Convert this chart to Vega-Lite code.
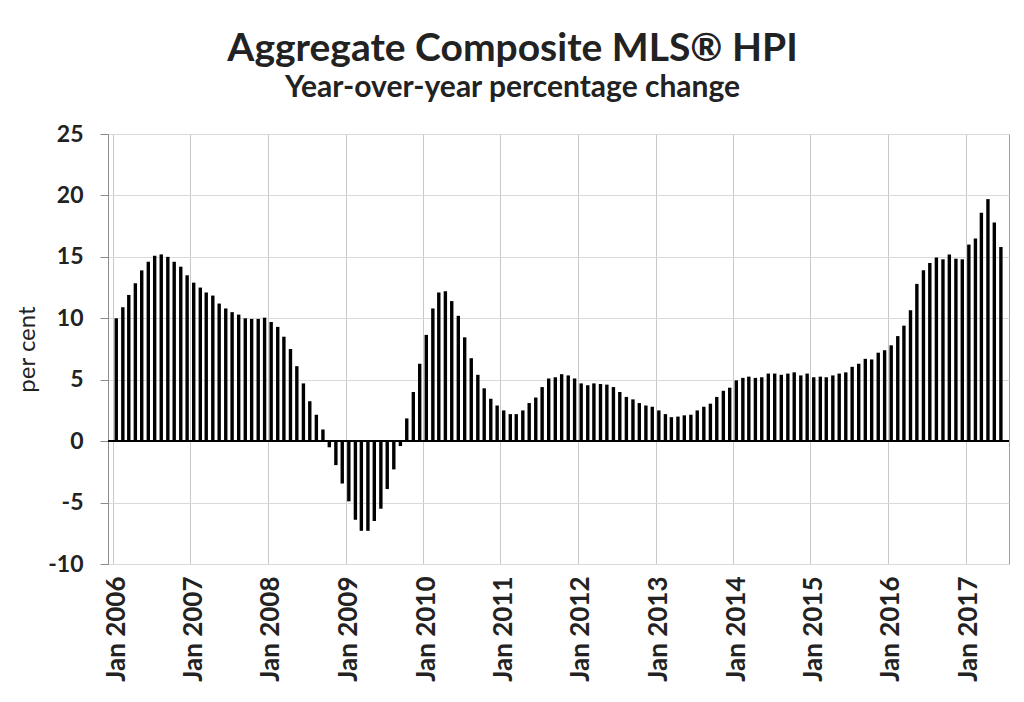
{
  "$schema": "https://vega.github.io/schema/vega-lite/v6.json",
  "autosize": {"type": "none"},
  "padding": {"left": 108, "top": 134, "right": 15, "bottom": 138},
  "width": 901,
  "height": 430,
  "background": "white",
  "title": {
    "text": "Aggregate Composite MLS® HPI",
    "subtitle": "Year-over-year percentage change",
    "font": "Lato",
    "fontSize": 39,
    "fontWeight": "bold",
    "color": "#222222",
    "subtitleFont": "Lato",
    "subtitleFontSize": 30,
    "subtitleFontWeight": "bold",
    "subtitleColor": "#222222",
    "subtitlePadding": 4,
    "anchor": "middle",
    "dx": -46,
    "offset": 20
  },
  "config": {
    "view": {"stroke": "#a0a0a0", "strokeWidth": 1},
    "axis": {
      "labelFont": "Lato",
      "titleFont": "Lato",
      "labelColor": "#222222",
      "titleColor": "#222222"
    }
  },
  "data": {
    "values": [
      {"month": "2006-01-01", "pct": 10.0}, {"month": "2006-02-01", "pct": 10.9}, {"month": "2006-03-01", "pct": 11.9}, {"month": "2006-04-01", "pct": 12.85},
      {"month": "2006-05-01", "pct": 13.9}, {"month": "2006-06-01", "pct": 14.6}, {"month": "2006-07-01", "pct": 15.1}, {"month": "2006-08-01", "pct": 15.2},
      {"month": "2006-09-01", "pct": 15.0}, {"month": "2006-10-01", "pct": 14.6}, {"month": "2006-11-01", "pct": 14.2}, {"month": "2006-12-01", "pct": 13.5},
      {"month": "2007-01-01", "pct": 12.9}, {"month": "2007-02-01", "pct": 12.5}, {"month": "2007-03-01", "pct": 12.1}, {"month": "2007-04-01", "pct": 11.85},
      {"month": "2007-05-01", "pct": 11.2}, {"month": "2007-06-01", "pct": 10.8}, {"month": "2007-07-01", "pct": 10.5}, {"month": "2007-08-01", "pct": 10.3},
      {"month": "2007-09-01", "pct": 10.0}, {"month": "2007-10-01", "pct": 9.95}, {"month": "2007-11-01", "pct": 9.95}, {"month": "2007-12-01", "pct": 10.05},
      {"month": "2008-01-01", "pct": 9.7}, {"month": "2008-02-01", "pct": 9.3}, {"month": "2008-03-01", "pct": 8.5}, {"month": "2008-04-01", "pct": 7.5},
      {"month": "2008-05-01", "pct": 6.1}, {"month": "2008-06-01", "pct": 4.7}, {"month": "2008-07-01", "pct": 3.25}, {"month": "2008-08-01", "pct": 2.15},
      {"month": "2008-09-01", "pct": 0.95}, {"month": "2008-10-01", "pct": -0.5}, {"month": "2008-11-01", "pct": -1.95}, {"month": "2008-12-01", "pct": -3.45},
      {"month": "2009-01-01", "pct": -4.9}, {"month": "2009-02-01", "pct": -6.4}, {"month": "2009-03-01", "pct": -7.3}, {"month": "2009-04-01", "pct": -7.3},
      {"month": "2009-05-01", "pct": -6.5}, {"month": "2009-06-01", "pct": -5.5}, {"month": "2009-07-01", "pct": -3.9}, {"month": "2009-08-01", "pct": -2.3},
      {"month": "2009-09-01", "pct": -0.4}, {"month": "2009-10-01", "pct": 1.85}, {"month": "2009-11-01", "pct": 4.0}, {"month": "2009-12-01", "pct": 6.3},
      {"month": "2010-01-01", "pct": 8.65}, {"month": "2010-02-01", "pct": 10.8}, {"month": "2010-03-01", "pct": 12.1}, {"month": "2010-04-01", "pct": 12.2},
      {"month": "2010-05-01", "pct": 11.4}, {"month": "2010-06-01", "pct": 10.2}, {"month": "2010-07-01", "pct": 8.45}, {"month": "2010-08-01", "pct": 6.75},
      {"month": "2010-09-01", "pct": 5.4}, {"month": "2010-10-01", "pct": 4.3}, {"month": "2010-11-01", "pct": 3.45}, {"month": "2010-12-01", "pct": 2.9},
      {"month": "2011-01-01", "pct": 2.5}, {"month": "2011-02-01", "pct": 2.2}, {"month": "2011-03-01", "pct": 2.2}, {"month": "2011-04-01", "pct": 2.5},
      {"month": "2011-05-01", "pct": 3.1}, {"month": "2011-06-01", "pct": 3.55}, {"month": "2011-07-01", "pct": 4.4}, {"month": "2011-08-01", "pct": 5.1},
      {"month": "2011-09-01", "pct": 5.2}, {"month": "2011-10-01", "pct": 5.45}, {"month": "2011-11-01", "pct": 5.35}, {"month": "2011-12-01", "pct": 5.1},
      {"month": "2012-01-01", "pct": 4.7}, {"month": "2012-02-01", "pct": 4.55}, {"month": "2012-03-01", "pct": 4.7}, {"month": "2012-04-01", "pct": 4.65},
      {"month": "2012-05-01", "pct": 4.6}, {"month": "2012-06-01", "pct": 4.4}, {"month": "2012-07-01", "pct": 4.0}, {"month": "2012-08-01", "pct": 3.6},
      {"month": "2012-09-01", "pct": 3.4}, {"month": "2012-10-01", "pct": 3.1}, {"month": "2012-11-01", "pct": 2.9}, {"month": "2012-12-01", "pct": 2.8},
      {"month": "2013-01-01", "pct": 2.5}, {"month": "2013-02-01", "pct": 2.2}, {"month": "2013-03-01", "pct": 1.95}, {"month": "2013-04-01", "pct": 2.0},
      {"month": "2013-05-01", "pct": 2.1}, {"month": "2013-06-01", "pct": 2.15}, {"month": "2013-07-01", "pct": 2.5}, {"month": "2013-08-01", "pct": 2.8},
      {"month": "2013-09-01", "pct": 3.05}, {"month": "2013-10-01", "pct": 3.6}, {"month": "2013-11-01", "pct": 4.1}, {"month": "2013-12-01", "pct": 4.35},
      {"month": "2014-01-01", "pct": 4.95}, {"month": "2014-02-01", "pct": 5.15}, {"month": "2014-03-01", "pct": 5.25}, {"month": "2014-04-01", "pct": 5.15},
      {"month": "2014-05-01", "pct": 5.2}, {"month": "2014-06-01", "pct": 5.5}, {"month": "2014-07-01", "pct": 5.5}, {"month": "2014-08-01", "pct": 5.4},
      {"month": "2014-09-01", "pct": 5.5}, {"month": "2014-10-01", "pct": 5.6}, {"month": "2014-11-01", "pct": 5.35}, {"month": "2014-12-01", "pct": 5.5},
      {"month": "2015-01-01", "pct": 5.2}, {"month": "2015-02-01", "pct": 5.25}, {"month": "2015-03-01", "pct": 5.2}, {"month": "2015-04-01", "pct": 5.35},
      {"month": "2015-05-01", "pct": 5.5}, {"month": "2015-06-01", "pct": 5.6}, {"month": "2015-07-01", "pct": 6.05}, {"month": "2015-08-01", "pct": 6.3},
      {"month": "2015-09-01", "pct": 6.7}, {"month": "2015-10-01", "pct": 6.65}, {"month": "2015-11-01", "pct": 7.2}, {"month": "2015-12-01", "pct": 7.4},
      {"month": "2016-01-01", "pct": 7.8}, {"month": "2016-02-01", "pct": 8.55}, {"month": "2016-03-01", "pct": 9.4}, {"month": "2016-04-01", "pct": 10.65},
      {"month": "2016-05-01", "pct": 12.8}, {"month": "2016-06-01", "pct": 13.9}, {"month": "2016-07-01", "pct": 14.5}, {"month": "2016-08-01", "pct": 14.95},
      {"month": "2016-09-01", "pct": 14.8}, {"month": "2016-10-01", "pct": 15.2}, {"month": "2016-11-01", "pct": 14.85}, {"month": "2016-12-01", "pct": 14.8},
      {"month": "2017-01-01", "pct": 16.0}, {"month": "2017-02-01", "pct": 16.5}, {"month": "2017-03-01", "pct": 18.6}, {"month": "2017-04-01", "pct": 19.7},
      {"month": "2017-05-01", "pct": 17.8}, {"month": "2017-06-01", "pct": 15.8}
    ]
  },
  "layer": [
    {
      "mark": {"type": "bar", "color": "#000000", "width": 3.4, "xOffset": 3.26},
      "encoding": {
        "x": {
          "field": "month",
          "type": "temporal",
          "scale": {"type": "utc", "domain": [{"year": 2006, "month": 1, "date": 1, "utc": true}, {"year": 2017, "month": 7, "date": 1, "utc": true}]},
          "axis": {
            "title": null,
            "format": "Jan %Y",
            "tickCount": {"interval": "year", "step": 1},
            "labelAngle": -90,
            "labelFontSize": 26,
            "labelFontWeight": "bold",
            "labelPadding": 12,
            "labelOffset": 3,
            "labelOverlap": false,
            "ticks": false,
            "domain": false,
            "grid": true,
            "gridColor": "#c8c8c8",
            "gridWidth": 1
          }
        },
        "y": {
          "field": "pct",
          "type": "quantitative",
          "scale": {"domain": [-10, 25], "nice": false},
          "axis": {
            "title": "per cent",
            "titleFontSize": 24,
            "titleFontWeight": "normal",
            "titlePadding": 8,
            "values": [-10, -5, 0, 5, 10, 15, 20, 25],
            "labelExpr": "toString(datum.value)",
            "labelFontSize": 23,
            "labelFontWeight": "bold",
            "labelPadding": 17,
            "tickSize": 8,
            "tickColor": "#8c8c8c",
            "domainColor": "#8c8c8c",
            "grid": true,
            "gridColor": "#d9d9d9",
            "gridWidth": 1
          }
        }
      }
    },
    {
      "mark": {"type": "rule", "color": "#000000", "strokeWidth": 1.5},
      "encoding": {"y": {"datum": 0}}
    }
  ]
}
